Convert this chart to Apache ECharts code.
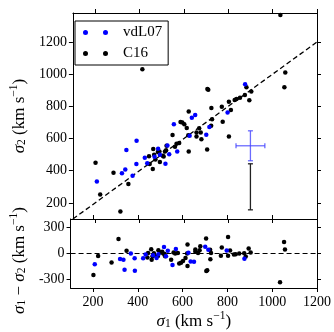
<!DOCTYPE html>
<html>
<head>
<meta charset="utf-8">
<script src="https://cdn.jsdelivr.net/npm/echarts@6/dist/echarts.min.js"></script>
<style>html,body{margin:0;padding:0;background:#fff}#c{width:334px;height:332px}</style>
</head>
<body>
<div id="c"></div>
<script>
// ---- data (sigma1, sigma2 in km/s) ----
const vdlSigma1 = [208,321,336,341,369,386,387,424,435,468,484,492,517,526,534,555,570,626,636,651,701,715,797,876];
const vdlSigma2 = [333,385,408,528,369,442,586,480,447,487,536,500,443,557,503,688,519,617,729,746,623,671,761,938];
const c16Sigma1 = [202,223,283,314,350,413,443,446,460,462,466,472,483,490,492,505,509,515,520,522,549,560,567,579,585,593,602,613,620,622,622,657,657,669,676,679,705,706,710,723,724,727,771,775,803,803,812,829,837,853,875,882,895,904,1035,1053,1057];
const c16Sigma2 = [450,252,387,146,318,1030,490,441,411,535,499,470,516,519,454,493,488,519,527,555,622,549,567,572,702,700,688,665,620,768,519,637,612,664,637,596,532,908,903,679,790,720,798,705,829,612,778,840,846,854,871,918,838,892,1368,919,1010];
const oneToOne = [100, 1200];
const zeroLineX = [100, 1200];
// error bars: [x, y, xerr, yerr]
const errVdl = [900, 555, 65, 93];
const errC16 = [900, 300, 0, 143];
const xTicks = [200,400,600,800,1000,1200];
const yTopTicks = [200,400,600,800,1000,1200];
const yBotTicks = [-300,0,300];

const pairs = (a, b) => a.map((v, i) => [v, b[i]]);
const resid = (a, b) => a.map((v, i) => [v, v - b[i]]);

const FONT = 'Liberation Serif';
const lab = {fontFamily: FONT, fontSize: 14, color: '#000', formatter: v => String(v)};
const nameRich = {
  i: {fontFamily: FONT, fontSize: 17, fontStyle: 'italic', color: '#000', lineHeight: 20, verticalAlign: 'bottom'},
  n: {fontFamily: FONT, fontSize: 17, color: '#000', lineHeight: 20, verticalAlign: 'bottom'},
  sub: {fontFamily: FONT, fontSize: 11.5, color: '#000', lineHeight: 13, verticalAlign: 'bottom'},
  sup: {fontFamily: FONT, fontSize: 11.5, color: '#000', lineHeight: 11, verticalAlign: 'top'}
};
const axLine = {show: true, onZero: false, lineStyle: {color: '#000', width: 1}};

function xAx(grid, pos, showLabel, name) {
  return {
    type: 'value', gridIndex: grid, position: pos, min: 100, max: 1200,
    axisLine: axLine,
    axisTick: {show: true, inside: false, length: 4, customValues: xTicks, lineStyle: {color: '#000'}},
    axisLabel: Object.assign({show: showLabel, customValues: xTicks, margin: 7}, lab),
    splitLine: {show: false},
    name: name || '', nameLocation: 'middle', nameGap: 22,
    nameTextStyle: {rich: nameRich}
  };
}
function yAx(grid, pos, min, max, ticks, showLabel, name, gap, pad) {
  return {
    type: 'value', gridIndex: grid, position: pos, min: min, max: max,
    axisLine: axLine,
    axisTick: {show: true, inside: false, length: 4, customValues: ticks, lineStyle: {color: '#000'}},
    axisLabel: Object.assign({show: showLabel, customValues: ticks, margin: 6}, lab),
    splitLine: {show: false},
    name: name || '', nameLocation: 'middle', nameGap: gap || 40,
    nameTextStyle: {rich: nameRich, padding: pad || 0}
  };
}

function errRender(color) {
  return function (params, api) {
    const x = api.value(0), y = api.value(1), xe = api.value(2), ye = api.value(3);
    const c = api.coord([x, y]);
    const l = api.coord([x - xe, y]), r = api.coord([x + xe, y]);
    const t = api.coord([x, y + ye]), b = api.coord([x, y - ye]);
    const cap = 2.5;
    const st = {stroke: color, lineWidth: 1.3};
    const ch = [
      {type: 'line', shape: {x1: c[0], y1: t[1], x2: c[0], y2: b[1]}, style: st},
      {type: 'line', shape: {x1: c[0] - cap, y1: t[1], x2: c[0] + cap, y2: t[1]}, style: st},
      {type: 'line', shape: {x1: c[0] - cap, y1: b[1], x2: c[0] + cap, y2: b[1]}, style: st}
    ];
    if (xe > 0) {
      ch.push({type: 'line', shape: {x1: l[0], y1: c[1], x2: r[0], y2: c[1]}, style: st});
      ch.push({type: 'line', shape: {x1: l[0], y1: c[1] - cap, x2: l[0], y2: c[1] + cap}, style: st});
      ch.push({type: 'line', shape: {x1: r[0], y1: c[1] - cap, x2: r[0], y2: c[1] + cap}, style: st});
    }
    return {type: 'group', children: ch};
  };
}

const chart = echarts.init(document.getElementById('c'), null, {renderer: 'canvas'});
const twoDots = 'path://M0,2.5a2.5,2.5 0 1,0 5,0a2.5,2.5 0 1,0 -5,0zM20,2.5a2.5,2.5 0 1,0 5,0a2.5,2.5 0 1,0 -5,0z';
const dotStyle = c => ({color: c, opacity: 1});
chart.setOption({
  animation: false,
  backgroundColor: '#fff',
  grid: [
    {left: 67, right: 17, top: 13, height: 206},
    {left: 67, right: 17, top: 219, height: 69}
  ],
  legend: {
    left: 75, top: 21, orient: 'vertical',
    data: [{name: 'vdL07', icon: twoDots}, {name: 'C16', icon: twoDots}],
    itemWidth: 25, itemHeight: 5, itemGap: 6,
    padding: [4, 6, 4, 8],
    borderColor: '#000', borderWidth: 1, borderRadius: 0,
    backgroundColor: '#fff',
    selectedMode: false,
    formatter: n => '{g|}' + n,
    textStyle: {fontFamily: FONT, fontSize: 15, color: '#000', rich: {g: {width: 10}}},
    z: 10
  },
  xAxis: [
    xAx(0, 'bottom', false),
    xAx(0, 'top', false),
    xAx(1, 'bottom', true, '{i|σ}{sub|1}{n| (km s}{sup|−1}{n|)}'),
    xAx(1, 'top', false)
  ],
  yAxis: [
    yAx(0, 'left', 100, 1380, yTopTicks, true, '{i|σ}{sub|2}{n| (km s}{sup|−1}{n|)}', 40),
    yAx(0, 'right', 100, 1380, yTopTicks, false),
    yAx(1, 'left', -400, 400, yBotTicks, true, '{i|σ}{sub|1}{n| − }{i|σ}{sub|2}{n| (km s}{sup|−1}{n|)}', 40, [0, 14, 0, 0]),
    yAx(1, 'right', -400, 400, yBotTicks, false)
  ],
  series: [
    {type: 'line', xAxisIndex: 0, yAxisIndex: 0, data: pairs(oneToOne, oneToOne), symbol: 'none',
     lineStyle: {color: '#000', width: 1.3, type: [5, 3]}, silent: true, z: 1},
    {type: 'line', xAxisIndex: 2, yAxisIndex: 2, data: zeroLineX.map(v => [v, 0]), symbol: 'none',
     lineStyle: {color: '#000', width: 1.1, type: [5, 3]}, silent: true, z: 1},
    {name: 'C16', type: 'scatter', xAxisIndex: 0, yAxisIndex: 0, data: pairs(c16Sigma1, c16Sigma2),
     symbolSize: 4.5, itemStyle: dotStyle('#000'), clip: true, z: 3},
    {name: 'vdL07', type: 'scatter', xAxisIndex: 0, yAxisIndex: 0, data: pairs(vdlSigma1, vdlSigma2),
     symbolSize: 4.5, itemStyle: dotStyle('#0000ff'), clip: true, z: 4},
    {name: 'C16', type: 'scatter', xAxisIndex: 2, yAxisIndex: 2, data: resid(c16Sigma1, c16Sigma2),
     symbolSize: 4.5, itemStyle: dotStyle('#000'), clip: true, z: 3},
    {name: 'vdL07', type: 'scatter', xAxisIndex: 2, yAxisIndex: 2, data: resid(vdlSigma1, vdlSigma2),
     symbolSize: 4.5, itemStyle: dotStyle('#0000ff'), clip: true, z: 4},
    {type: 'custom', xAxisIndex: 0, yAxisIndex: 0, data: [errVdl], renderItem: errRender('rgba(70,70,255,0.8)'), z: 2, silent: true},
    {type: 'custom', xAxisIndex: 0, yAxisIndex: 0, data: [errC16], renderItem: errRender('#222'), z: 2, silent: true}
  ]
});
</script>
</body>
</html>
